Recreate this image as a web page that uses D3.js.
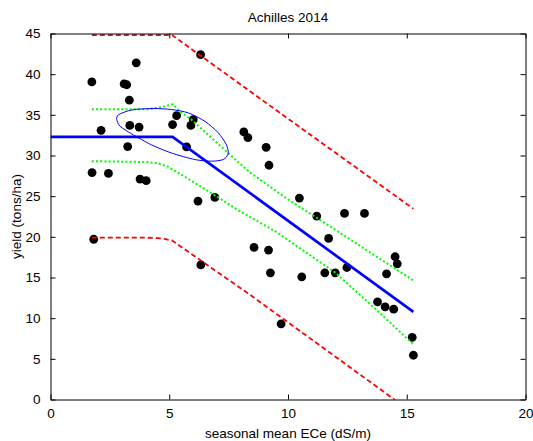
<!DOCTYPE html>
<html>
<head>
<meta charset="utf-8">
<script src="https://cdn.jsdelivr.net/npm/d3@7"></script>
<style>
  html, body { margin: 0; padding: 0; background: #fff; }
  svg { display: block; }
  text { font-family: Arial, "Liberation Sans", Helvetica, sans-serif; fill: #000; }
</style>
</head>
<body>
<svg id="chart" width="533" height="441"></svg>
<script>
// ---- data ----
const titleText = "Achilles 2014";
const xLabelText = "seasonal mean ECe (dS/m)";
const yLabelText = "yield (tons/ha)";
const xTicks = [0, 5, 10, 15, 20];
const yTicks = [0, 5, 10, 15, 20, 25, 30, 35, 40, 45];

// observed points: seasonal mean ECe and yield
const ece = [6.32, 3.61, 1.74, 3.10, 3.21, 3.32, 2.13, 3.34, 3.73, 5.31, 5.14, 6.01, 5.91, 5.73,
             3.25, 1.75, 2.44, 3.77, 4.03, 6.21, 6.92, 8.14, 8.31, 9.08, 9.20, 10.48,
             11.21, 12.38, 13.22, 11.71, 8.57, 9.18, 9.26, 10.58, 11.55, 11.99, 12.48,
             14.15, 14.51, 14.60, 13.77, 14.09, 14.45, 15.23, 15.28, 9.71, 1.82, 6.33];
const yieldObs = [42.4, 41.4, 39.05, 38.8, 38.7, 36.8, 33.1, 33.7, 33.5, 34.9, 33.8, 34.4, 33.7, 31.05,
                  31.1, 27.9, 27.8, 27.1, 26.9, 24.4, 24.85, 32.9, 32.2, 31.0, 28.8, 24.77,
                  22.55, 22.88, 22.88, 19.8, 18.7, 18.37, 15.57, 15.08, 15.57, 15.57, 16.23,
                  15.45, 17.55, 16.68, 12.0, 11.39, 11.1, 7.65, 5.44, 9.3, 19.7, 16.55];

// piecewise-linear fit (threshold model)
const fitX = [0, 5.14, 15.28];
const fitY = [32.3, 32.3, 10.77];

// confidence band (green dotted)
const confUpX = [1.74, 4.1, 4.7, 5.15, 5.45, 5.94, 6.92, 7.9, 8.39, 10.0, 11.71, 13.5, 15.28];
const confUpY = [35.7, 35.7, 35.95, 36.3, 35.4, 34.4, 31.8, 29.2, 27.93, 24.6, 21.4, 18.0, 14.63];
const confLoX = [1.74, 4.05, 4.5, 4.89, 5.59, 6.71, 7.83, 9.51, 11.99, 13.77, 15.25];
const confLoY = [29.3, 29.2, 29.05, 28.7, 27.5, 25.5, 23.4, 20.6, 15.6, 10.9, 6.85];

// prediction band (red dashed)
const predUpX = [1.74, 5.12, 10.49, 15.28];
const predUpY = [44.8, 44.8, 33.5, 23.45];
const predLoX = [1.74, 4.0, 4.5, 4.8, 5.12, 8.39, 14.48, 15.28];
const predLoY = [19.9, 19.9, 19.85, 19.75, 19.55, 12.9, 0, -1.8];

// parameter confidence ellipse outline (blue)
const ellX = [2.79, 2.86, 3.28, 3.70, 4.40, 5.10, 5.80, 6.50, 7.06, 7.41, 7.48, 7.27, 6.78, 6.08, 5.10, 4.26, 3.42, 2.93];
const ellY = [34.43, 35.0, 35.5, 35.7, 35.77, 35.65, 35.24, 34.2, 32.8, 31.3, 30.2, 29.5, 29.3, 29.5, 30.3, 31.3, 32.65, 33.6];

// ---- drawing ----
const svg = d3.select("#chart");
const L = 50.5, R = 525.5, T = 33.5, B = 399.5;
const x = d3.scaleLinear().domain([0, 20]).range([L, R]);
const y = d3.scaleLinear().domain([0, 45]).range([B, T]);

svg.append("defs").append("clipPath").attr("id", "clip")
  .append("rect").attr("x", L).attr("y", T).attr("width", R - L).attr("height", B - T);

const plot = svg.append("g").attr("clip-path", "url(#clip)");

const zip = (xs, ys) => xs.map((v, i) => [v, ys[i]]);

// points
plot.selectAll("circle.pt").data(zip(ece, yieldObs)).enter().append("circle")
  .attr("class", "pt")
  .attr("cx", d => x(d[0])).attr("cy", d => y(d[1]))
  .attr("r", 4.4).attr("fill", "#000");

const lineStraight = d3.line().x(d => x(d[0])).y(d => y(d[1]));

// prediction band
[zip(predUpX, predUpY), zip(predLoX, predLoY)].forEach(pts => {
  plot.append("path").attr("d", lineStraight(pts))
    .attr("fill", "none").attr("stroke", "#ff0000").attr("stroke-width", 1.8)
    .attr("stroke-dasharray", "5,3");
});

// confidence band
[zip(confUpX, confUpY), zip(confLoX, confLoY)].forEach(pts => {
  plot.append("path").attr("d", lineStraight(pts))
    .attr("fill", "none").attr("stroke", "#00ff00").attr("stroke-width", 2)
    .attr("stroke-dasharray", "2,2.2");
});

// ellipse
plot.append("path")
  .attr("d", d3.line().x(d => x(d[0])).y(d => y(d[1])).curve(d3.curveCardinalClosed.tension(0.2))(zip(ellX, ellY)))
  .attr("fill", "none").attr("stroke", "#0000ff").attr("stroke-width", 1);

// fit line
plot.append("path").attr("d", lineStraight(zip(fitX, fitY)))
  .attr("fill", "none").attr("stroke", "#0000ff").attr("stroke-width", 2.7);

// ---- axes (MATLAB style box with inward ticks) ----
const fontSize = "13.5px";
const tickLen = 5;
const axB = d3.axisBottom(x).tickValues(xTicks).tickSizeInner(-tickLen).tickSizeOuter(0).tickPadding(9).tickFormat(d3.format("d"));
const axT = d3.axisTop(x).tickValues(xTicks).tickSizeInner(-tickLen).tickSizeOuter(0).tickFormat("");
const axL = d3.axisLeft(y).tickValues(yTicks).tickSizeInner(-tickLen).tickSizeOuter(0).tickPadding(10).tickFormat(d3.format("d"));
const axR = d3.axisRight(y).tickValues(yTicks).tickSizeInner(-tickLen).tickSizeOuter(0).tickFormat("");

function styleAxis(g) {
  g.select(".domain").attr("stroke", "#000").attr("stroke-width", 1);
  g.selectAll(".tick line").attr("stroke", "#000");
  g.selectAll(".tick text").style("font-size", fontSize).attr("fill", "#000")
    .style("font-family", "Arial, 'Liberation Sans', Helvetica, sans-serif");
}
svg.append("g").attr("transform", `translate(0,${B})`).call(axB).call(styleAxis);
svg.append("g").attr("transform", `translate(0,${T})`).call(axT).call(styleAxis);
svg.append("g").attr("transform", `translate(${L},0)`).call(axL).call(styleAxis);
svg.append("g").attr("transform", `translate(${R},0)`).call(axR).call(styleAxis);

// titles
svg.append("text").attr("x", (L + R) / 2).attr("y", 22).attr("text-anchor", "middle")
  .style("font-size", fontSize).text(titleText);
svg.append("text").attr("x", (L + R) / 2).attr("y", 438).attr("text-anchor", "middle")
  .style("font-size", fontSize).text(xLabelText);
svg.append("text").attr("transform", `translate(21,${(T + B) / 2}) rotate(-90)`)
  .attr("text-anchor", "middle").style("font-size", fontSize).text(yLabelText);
</script>
</body>
</html>
